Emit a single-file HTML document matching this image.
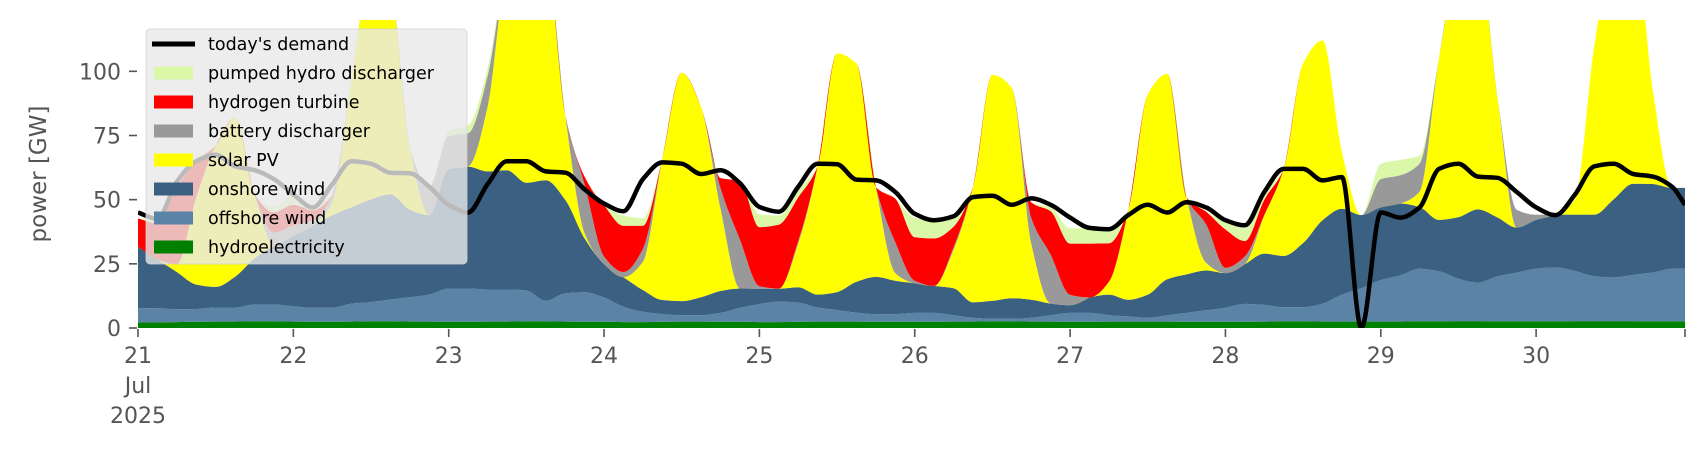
<!DOCTYPE html>
<html><head><meta charset="utf-8"><style>
html,body{margin:0;padding:0;background:#fff;}
svg{display:block;font-family:"DejaVu Sans","Liberation Sans",sans-serif;}
</style></head><body>
<svg id="chart" width="1706" height="460" viewBox="0 0 1706 460" xmlns="http://www.w3.org/2000/svg">
<defs><clipPath id="plotclip"><rect x="138" y="20" width="1547" height="308"/></clipPath></defs>
<g id="areas" clip-path="url(#plotclip)"></g>
<g id="demandg" clip-path="url(#plotclip)"></g>
<g id="yaxis"></g>
<g id="xaxis"></g>
<text x="46" y="174" transform="rotate(-90 46 174)" text-anchor="middle" font-size="23" fill="#555">power [GW]</text>
<g id="legend"></g>
</svg>
<script>
const hydro = [2.2,2.2,2.3,2.4,2.5,2.5,2.6,2.6, 2.5,2.4,2.4,2.5,2.6,2.6,2.5,2.5, 2.4,2.4,2.5,2.5,2.6,2.6,2.5,2.4, 2.4,2.3,2.3,2.4,2.5,2.5,2.4,2.4, 2.3,2.3,2.4,2.5,2.5,2.5,2.4,2.4, 2.4,2.4,2.5,2.5,2.6,2.6,2.5,2.5, 2.4,2.4,2.5,2.5,2.5,2.5,2.4,2.4, 2.4,2.4,2.5,2.6,2.6,2.5,2.5,2.5, 2.5,2.5,2.6,2.6,2.7,2.7,2.6,2.6, 2.6,2.6,2.7,2.7,2.7,2.7,2.6,2.6, 2.6];
const offshore = [5.5,5.5,5,5,5.5,5.5,6.5,6.5, 6,5.5,5.5,7,7.5,8.5,9.5,10.5, 13,13,12.5,12.5,12,8,11,11.5, 9.5,6,4,3,2.5,2.5,3.5,5.5, 7,8,7.5,5.5,4.5,3.5,3,3, 3.5,3.5,2.5,1.5,1,1,1.5,2.5, 3.5,3.5,2.5,2,1.5,2.5,3.5,4.5, 5.5,7,6.5,5.5,5.5,7,10.5,13, 16.2,18,20.5,19.5,16.5,15,17.5,19, 20.5,21,19.5,17.5,17,18,19,20.5, 20.5];
const onshore = [24,19,14.5,9.5,8,12,18,23, 27.5,32,36,37.5,40,41,34,31, 46.5,47.5,46,46.5,42,47,36.5,21, 13,11.5,8.5,5.5,5.5,7,8.5,7.5, 6,5,6,5,7,12,14.5,13, 11.5,10.5,10.5,6,7,8,7,4.5, 3,6,8,6.5,9,14,15,15.5, 13.5,15.5,20,20,25,32.5,33.5,28.5, 28.3,28,24,20,24,28.5,23,17.5, 19,20.5,22,24,30.5,35.5,34.5,31.5, 31.5];
const solar = [0,0,3,34,55,62,25,0, 0,0,5,50,90,80,24,0, 0,0,25,80,100,90,33,2, 0,0,11,55,89,74,32,0, 0,0,17,50,93,85,35,3, 0,0,15,45,88,82,22,0, 0,0,5,35,78,80,30,3, 0,0,15,34,70,70,22,0, 0,0,6,63,100,100,47,0, 0,0,6,66,100,100,37,0, 0];
const battery = [0,0,0,0,0,0,0,5, 4,2,3,0,0,0,0,11, 13,13,12,0,0,0,0,19, 3,2,5,0,0,0,8,19, 1,0,1,0,0,0,0,12, 1,0,1,0,0,0,10,19, 4,0,0,0,0,0,0,15, 2,3,0,0,0,0,0,0, 11,11,11,0,0,0,0,7, 2,0,0,0,0,0,0,0, 0];
const hydrogen = [11,14,30,14,0,0,0,8, 8,4,0,0,0,0,0,0, 0,0,0,0,0,0,0,3, 20,18,9,0,0,0,4,23, 23,25,17,0,0,0,0,17, 17,18.5,8,0,0,0,6,17, 20,21,15,0,0,0,0,5, 15,6,6,0,0,0,0,0, 0,0,0,0,0,0,0,0, 0,0,0,0,0,0,0,0, 0];
const pumped = [0,1,1,1,0,0,0,2, 4,2,0,0,0,0,0,0, 2,3,3,0,0,0,0,0, 0,4,3,0,0,0,0,0, 5,3.5,3,0,0,0,0,0, 7.5,7,4,0,0,0,0,1.5, 6,6,5,0,0,0,0,0, 3,5,3,0,0,0,0,0, 6,6,3,0,0,0,0,0, 0,0,0,0,0,0,0,0, 0];
const demand = [45,42.5,57,65,67.5,63,61.5,58, 52,47,56,65,64,60.5,60.3,55, 48,45,56,65,65,61,60.5,54, 48.5,45.5,58,64.5,64,60,61.5,56.4, 47.2,45.3,55,64,63.8,57.8,57.5,53, 44.5,42,43.5,51,51.5,48,50.5,48, 43,39,38.5,44,48,45,49,47, 42,40,53,62,62,57.5,58.8,0, 45,43,47,62,64,59,58.5,53, 47,44,52,63,64,60,59,55, 48];
const yTicks = [0,25,50,75,100];
const dayLabels = ["21","22","23","24","25","26","27","28","29","30"];
const hours = [];
for (let i = 0; i < 80; i++) hours.push(3 * i);
hours.push(239);

const NS = "http://www.w3.org/2000/svg";
const X0 = 138, X1 = 1685, Y0 = 328, Y1 = 20, HMAX = 239, VMAX = 120;
const xs = h => X0 + h * (X1 - X0) / HMAX;
const ys = v => Y0 - v * (Y0 - Y1) / VMAX;
function mk(tag, attrs, parent) {
  const e = document.createElementNS(NS, tag);
  for (const k in attrs) e.setAttribute(k, attrs[k]);
  parent.appendChild(e);
  return e;
}
// monotone cubic path segment through points (after the first point)
function monoSegs(P, startCmd) {
  const n = P.length;
  const d = [], m = [];
  for (let i = 0; i < n - 1; i++) d.push((P[i+1][1] - P[i][1]) / (P[i+1][0] - P[i][0]));
  for (let i = 0; i < n; i++) {
    if (i === 0) m.push(d[0]);
    else if (i === n - 1) m.push(d[n-2]);
    else if (d[i-1] * d[i] <= 0) m.push(0);
    else m.push(3 * (d[i-1] + d[i]) / (2 + 0) / 3 * 2 / (1/d[i-1]*d[i] >= 0 ? 1 : 1) * 0 + (2 / (1/d[i-1] + 1/d[i])));
  }
  let s = startCmd + P[0][0].toFixed(1) + "," + P[0][1].toFixed(1);
  for (let i = 0; i < n - 1; i++) {
    const h = P[i+1][0] - P[i][0];
    const c1x = P[i][0] + h / 3, c1y = P[i][1] + m[i] * h / 3;
    const c2x = P[i+1][0] - h / 3, c2y = P[i+1][1] - m[i+1] * h / 3;
    s += " C" + c1x.toFixed(1) + "," + c1y.toFixed(1) + " " + c2x.toFixed(1) + "," + c2y.toFixed(1) + " " + P[i+1][0].toFixed(1) + "," + P[i+1][1].toFixed(1);
  }
  return s;
}
const series = [
  {name: "hydroelectricity", vals: hydro, color: "#008000"},
  {name: "offshore wind", vals: offshore, color: "#5b83a5"},
  {name: "onshore wind", vals: onshore, color: "#3b6081"},
  {name: "solar PV", vals: solar, color: "#ffff00"},
  {name: "battery discharger", vals: battery, color: "#999999"},
  {name: "hydrogen turbine", vals: hydrogen, color: "#ff0000"},
  {name: "pumped hydro discharger", vals: pumped, color: "#daf8a8"}
];
const areas = document.getElementById("areas");
let base = hours.map(() => 0);
series.forEach(s => {
  const top = base.map((b, i) => b + s.vals[i]);
  const TP = hours.map((h, i) => [xs(h), ys(top[i])]);
  const BP = hours.map((h, i) => [xs(h), ys(base[i])]);
  const BR = BP.slice().reverse();
  const dstr = monoSegs(TP, "M") + " L" + BR[0][0].toFixed(1) + "," + BR[0][1].toFixed(1) + monoSegs(BR, " L").replace(/^ L[^ ]+/, "") + " Z";
  const p = mk("path", {d: dstr, fill: s.color, stroke: "none"}, areas);
  
  
  base = top;
});
const dg = document.getElementById("demandg");
const DP = hours.map((h, i) => [xs(h), ys(demand[i])]);
const dl = mk("path", {d: monoSegs(DP, "M"), fill: "none", stroke: "#000", "stroke-width": 4.5, "stroke-linejoin": "round"}, dg);



const ya = document.getElementById("yaxis");
yTicks.forEach(v => {
  const t = mk("line", {x1: 129, x2: 137, y1: ys(v), y2: ys(v), stroke: "#555", "stroke-width": 1.6}, ya);
  
  
  const l = mk("text", {x: 121, y: ys(v) + 8, "text-anchor": "end", "font-size": 22, fill: "#555"}, ya);
  l.textContent = String(v);
  
  
});
const xa = document.getElementById("xaxis");
dayLabels.forEach((d, i) => {
  const x = xs(i * 24);
  const t = mk("line", {x1: x, x2: x, y1: 329, y2: 337, stroke: "#555", "stroke-width": 1.6}, xa);
  
  
  const l = mk("text", {x: x, y: 363, "text-anchor": "middle", "font-size": 22, fill: "#555"}, xa);
  l.textContent = d;
  
  
});
const te = mk("line", {x1: X1, x2: X1, y1: 329, y2: 337, stroke: "#555", "stroke-width": 1.6}, xa);


const m1 = mk("text", {x: xs(0), y: 393, "text-anchor": "middle", "font-size": 22, fill: "#555"}, xa);
m1.textContent = "Jul";


const m2 = mk("text", {x: xs(0), y: 423, "text-anchor": "middle", "font-size": 22, fill: "#555"}, xa);
m2.textContent = "2025";



const lg = document.getElementById("legend");
const box = mk("rect", {x: 146, y: 29, width: 321, height: 235, rx: 4, fill: "rgba(232,232,232,0.8)", stroke: "rgba(210,210,210,0.8)", "stroke-width": 1}, lg);


const entries = [{name: "today's demand", color: "#000", line: true}].concat(series.slice().reverse());
entries.forEach((e, i) => {
  const cy = 44 + i * 29;
  if (e.line) {
    const m = mk("line", {x1: 152, x2: 195, y1: cy, y2: cy, stroke: "#000", "stroke-width": 5}, lg);
    
    
  } else {
    const m = mk("rect", {x: 154, y: cy - 6.5, width: 39, height: 13, fill: e.color}, lg);
    
    
  }
  const t = mk("text", {x: 208, y: cy + 6, "font-size": 17.5, fill: "#000"}, lg);
  t.textContent = e.name;
  
  
});
</script>
</body></html>
